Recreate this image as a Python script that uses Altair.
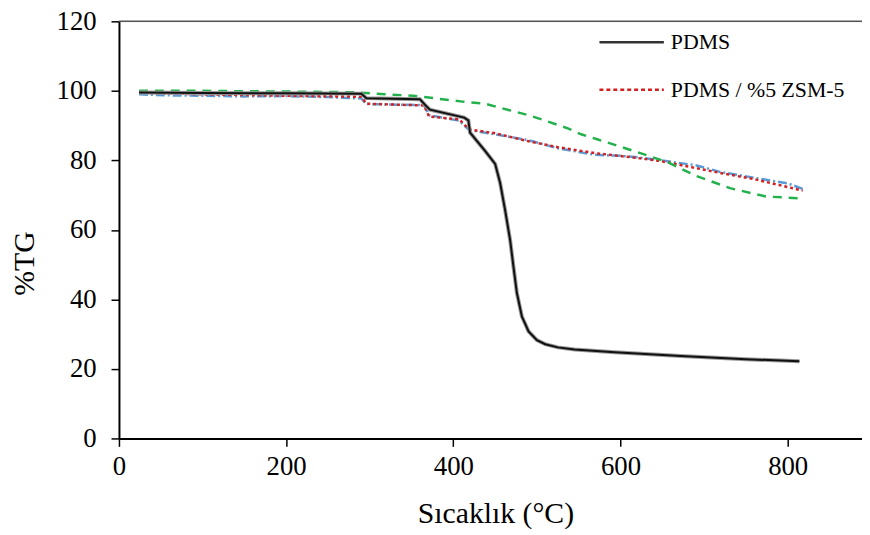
import altair as alt
import pandas as pd

# PDMS (black, solid)
pdms_t = [24, 100, 200, 290, 296, 360, 368, 372, 413, 418, 420, 438, 450, 456, 462, 468,
          472, 476, 482, 490, 500, 510, 525, 545, 593, 672, 750, 814]
pdms_y = [99.5, 99.4, 99.3, 99.2, 97.9, 97.6, 95.5, 94.6, 92.3, 91.5, 88.0, 82.7, 79.0, 73.5,
          65.6, 57.0, 49.3, 41.9, 35.1, 30.8, 28.3, 27.1, 26.2, 25.6, 24.8, 23.7, 22.8, 22.2]

# PDMS / %5 ZSM-5 (red, dotted)
zsm_t = [24, 100, 200, 290, 296, 365, 371, 407, 419, 450, 490, 525, 569, 620, 648, 719, 760, 818]
zsm_y = [99.5, 99.0, 98.6, 98.3, 96.3, 95.8, 92.6, 91.8, 88.9, 87.8, 85.5, 83.8, 82.1, 80.7,
         79.8, 76.4, 74.6, 71.3]

# blue dash-dot series
blue_t = [24, 60, 100, 150, 200, 250, 290, 296, 365, 371, 407, 419, 450, 490, 525, 569, 600,
          620, 648, 690, 719, 760, 800, 818]
blue_y = [99.0, 98.7, 98.6, 98.4, 98.5, 98.2, 97.8, 96.2, 95.9, 93.0, 91.4, 88.7, 87.5, 85.8,
          83.5, 81.6, 81.3, 80.9, 80.0, 78.6, 76.7, 75.0, 73.4, 71.8]

# green dashed series
green_t = [24, 100, 200, 280, 312, 352, 380, 411, 438, 458, 490, 513, 537, 553, 573, 616, 656,
           691, 731, 774, 814]
green_y = [100.0, 100.0, 99.8, 99.6, 99.1, 98.6, 97.8, 96.9, 96.3, 95.0, 93.0, 91.2, 89.2, 87.5,
           86.0, 82.7, 79.5, 75.5, 72.0, 69.6, 69.1]

x_ticks = [0, 200, 400, 600, 800]
y_ticks = [0, 20, 40, 60, 80, 100, 120]
legend_labels = ["PDMS", "PDMS / %5 ZSM-5"]

FONT = "Liberation Serif"

x_scale = alt.Scale(domain=[0, 888.9], nice=False, zero=False)
y_scale = alt.Scale(domain=[0, 120], nice=False)

x_axis = alt.Axis(values=x_ticks, title="Sıcaklık (°C)", grid=False,
                  domainColor="black", domainWidth=2, tickColor="black", tickWidth=1.5,
                  tickSize=8, labelFont=FONT, labelFontSize=27, labelPadding=7,
                  labelColor="black", labelFlush=False, titleFont=FONT, titleFontSize=30,
                  titleFontWeight="normal", titleColor="black", titleX=380, titleY=76,
                  titleAlign="center", titleBaseline="middle")
y_axis = alt.Axis(values=y_ticks, title="%TG", grid=False,
                  domainColor="black", domainWidth=2, tickColor="black", tickWidth=1.5,
                  tickSize=8, labelFont=FONT, labelFontSize=27, labelPadding=15,
                  labelColor="black", labelFlush=False, titleFont=FONT, titleFontSize=30,
                  titleFontWeight="normal", titleColor="black", titleAngle=270,
                  titleX=-95, titleY=244, titleAlign="center", titleBaseline="middle")


def enc():
    return dict(x=alt.X("T:Q", scale=x_scale, axis=x_axis),
                y=alt.Y("Y:Q", scale=y_scale, axis=y_axis))


def series(t, y, color, dash, width):
    d = pd.DataFrame({"T": t, "Y": y})
    kw = dict(color=color, strokeWidth=width, clip=True)
    if dash:
        kw["strokeDash"] = dash
    return alt.Chart(d).mark_line(**kw).encode(**enc())


blue = series(blue_t, blue_y, "#5b9bd5", [9, 3, 2, 3], 2.5)
red = series(zsm_t, zsm_y, "#d42020", [3, 3], 2.5)
green = series(green_t, green_y, "#22b14c", [9, 7], 2.5)
black_halo = series(pdms_t, pdms_y, "#9a9a9a", None, 4)
black = series(pdms_t, pdms_y, "#111111", None, 2)

top = alt.Chart(pd.DataFrame({"Y": [120]})).mark_rule(color="#555555", strokeWidth=1.5).encode(
    y=alt.Y("Y:Q", scale=y_scale, axis=y_axis))

one = pd.DataFrame({"k": [0]})
leg_line1 = alt.Chart(one).mark_rule(color="#333333", strokeWidth=2.5).encode(
    x=alt.value(485), x2=alt.value(550), y=alt.value(21))
leg_line2 = alt.Chart(one).mark_rule(color="#d42020", strokeWidth=2.5, strokeDash=[4, 3]).encode(
    x=alt.value(485), x2=alt.value(550), y=alt.value(69))
leg_text1 = alt.Chart(one).mark_text(align="left", baseline="middle", font=FONT, fontSize=22,
                                     color="black").encode(
    x=alt.value(557), y=alt.value(21), text=alt.value(legend_labels[0]))
leg_text2 = alt.Chart(one).mark_text(align="left", baseline="middle", font=FONT, fontSize=22,
                                     color="black").encode(
    x=alt.value(557), y=alt.value(69), text=alt.value(legend_labels[1]))

chart = alt.layer(top, blue, red, green, black_halo, black,
                  leg_line1, leg_line2, leg_text1, leg_text2).properties(
    width=750, height=421,
    autosize=alt.AutoSizeParams(type="none"),
    padding={"left": 112, "top": 11, "right": 0, "bottom": 95},
).configure_view(stroke=None).configure(background="white")

chart.save("out.html", embed_options={"renderer": "svg", "actions": False})
